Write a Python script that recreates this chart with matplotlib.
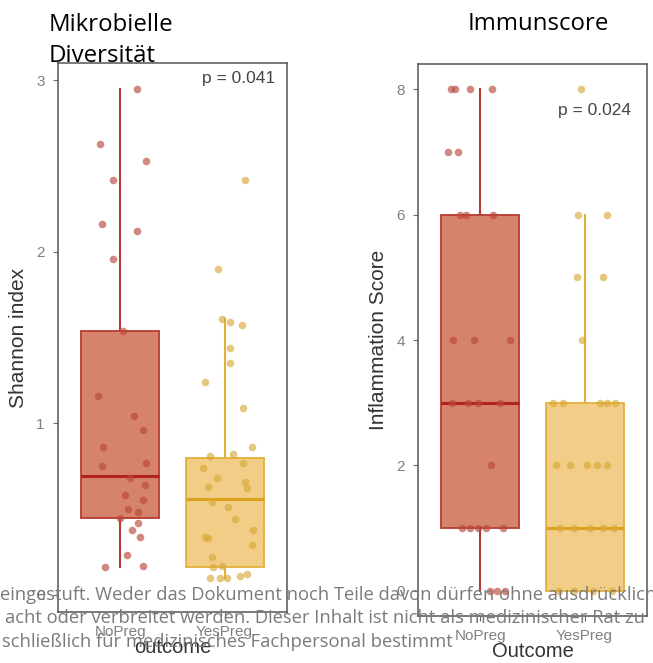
import matplotlib
matplotlib.use("Agg")
import matplotlib.pyplot as plt

groups = ["NoPreg", "YesPreg"]

# Shannon index per sample, with the horizontal jitter of each dot
shannon_no = [2.95, 2.63, 2.53, 2.42, 2.16, 2.12, 1.96, 1.54, 1.16, 1.04, 0.96, 0.86,
              0.75, 0.77, 0.68, 0.64, 0.58, 0.55, 0.50, 0.48, 0.45, 0.42, 0.38, 0.34,
              0.23, 0.16, 0.17]
shannon_no_jit = [0.16, -0.20, 0.25, -0.07, -0.18, 0.16, -0.07, 0.02, -0.22, 0.13, 0.22, -0.17,
                  -0.18, 0.25, 0.09, 0.24, 0.04, 0.22, 0.07, 0.17, 0.00, 0.17, 0.11, 0.19,
                  0.06, -0.15, 0.22]
shannon_yes = [2.42, 1.90, 1.61, 1.59, 1.57, 1.44, 1.35, 1.24, 1.09, 0.86, 0.81, 0.82,
               0.77, 0.74, 0.68, 0.63, 0.66, 0.62, 0.54, 0.51, 0.44, 0.38, 0.34, 0.33,
               0.29, 0.22, 0.17, 0.16, 0.10, 0.11, 0.12, 0.10, 0.10]
shannon_yes_jit = [0.20, -0.06, -0.02, 0.05, 0.17, 0.05, 0.05, -0.19, 0.18, 0.26, -0.14, 0.08,
                   0.18, -0.21, -0.07, -0.16, 0.20, 0.22, -0.12, 0.03, 0.10, 0.27, -0.19, -0.16,
                   0.26, -0.12, -0.02, -0.11, 0.02, 0.15, 0.22, -0.14, -0.04]

# inflammation score per sample
infl_no = [8, 8, 8, 8, 7, 7, 6, 6, 6, 4, 4, 4, 3, 3, 3, 3, 2, 1, 1, 1, 1, 1, 0, 0, 0]
infl_no_jit = [-0.28, -0.24, -0.10, 0.11, -0.31, -0.22, -0.20, -0.14, 0.12, -0.26, -0.06, 0.28,
               -0.27, -0.12, -0.02, 0.19, 0.10, -0.18, -0.10, -0.02, 0.05, 0.22, 0.09, 0.16, 0.24]
infl_yes = [8, 6, 6, 5, 5, 4, 3, 3, 3, 3, 3, 2, 2, 2, 2, 2, 1, 1, 1, 1, 1, 0, 0, 0, 0]
infl_yes_jit = [-0.03, -0.06, 0.22, -0.07, 0.18, -0.02, -0.30, -0.21, 0.15, 0.22, 0.29,
                -0.27, -0.14, 0.02, 0.12, 0.22, -0.24, -0.10, 0.05, 0.18, 0.28, -0.25, -0.10, 0.08, 0.26]

# box statistics: (whislo, q1, med, q3, whishi)
shannon_boxes = [(0.16, 0.45, 0.69, 1.54, 2.95), (0.10, 0.16, 0.56, 0.80, 1.61)]
infl_boxes = [(0, 1, 3, 6, 8), (0, 0, 1, 3, 6)]

pvals = ["p = 0.041", "p = 0.024"]

fills = ["#d6836b", "#f1cd87"]
edges = ["#b83a30", "#e3b03a"]
medians = ["#b0231f", "#dba21e"]
dots = ["#b8493c", "#d8aa3a"]

plt.rcParams["font.family"] = ["Liberation Sans", "DejaVu Sans"]

fig = plt.figure(figsize=(6.53, 6.63), dpi=100)
W, H = 653, 663
ax1 = fig.add_axes([58 / W, 1 - 612 / H, 229 / W, 549 / H])
ax2 = fig.add_axes([418 / W, 1 - 616 / H, 229 / W, 552 / H])


def draw_panel(ax, boxes, vals, jits, ylim, yticks, ylabel, xlabel, ptxt, ppos):
    stats = []
    for b in boxes:
        stats.append(dict(whislo=b[0], q1=b[1], med=b[2], q3=b[3], whishi=b[4], fliers=[]))
    bp = ax.bxp(stats, positions=[1, 2], widths=0.75, showcaps=False, showfliers=False,
                patch_artist=True)
    for i in range(2):
        bp["boxes"][i].set_facecolor(fills[i])
        bp["boxes"][i].set_edgecolor(edges[i])
        bp["boxes"][i].set_linewidth(1.3)
        bp["medians"][i].set_color(medians[i])
        bp["medians"][i].set_linewidth(2.2)
        for w in bp["whiskers"][2 * i:2 * i + 2]:
            w.set_color(edges[i])
            w.set_linewidth(1.5)
    for i in range(2):
        xs = [i + 1 + j for j in jits[i]]
        ax.scatter(xs, vals[i], s=30, color=dots[i], alpha=0.65, linewidths=0, zorder=3)
    ax.set_xlim(0.4, 2.6)
    ax.set_ylim(*ylim)
    ax.set_yticks(yticks)
    ax.set_xticks([1, 2])
    ax.set_xticklabels(groups)
    ax.tick_params(colors="#666666", labelcolor="#808080", labelsize=11, length=3.5, width=0.8, pad=6)
    for s in ax.spines.values():
        s.set_color("#555555")
        s.set_linewidth(1.1)
    ax.set_ylabel(ylabel, fontsize=15, color="#333333", labelpad=6)
    ax.set_xlabel(xlabel, fontsize=14.5, color="#333333", labelpad=-1)
    ax.text(ppos[0], ppos[1], ptxt, ha="center", va="center", fontsize=12.5, color="#444444")


draw_panel(ax1, shannon_boxes, [shannon_no, shannon_yes], [shannon_no_jit, shannon_yes_jit],
           (-0.1, 3.1), [0, 1, 2, 3], "Shannon index", "outcome", pvals[0], (2.13, 3.01))
draw_panel(ax2, infl_boxes, [infl_no, infl_yes], [infl_no_jit, infl_yes_jit],
           (-0.4, 8.4), [0, 2, 4, 6, 8], "Inflammation Score", "Outcome", pvals[1], (2.10, 7.66))

# panel headings
fig.text(49 / W, 1 - 31 / H, "Mikrobielle", family="Open Sans", fontsize=17.3, va="baseline")
fig.text(49 / W, 1 - 62 / H, "Diversität", family="Open Sans", fontsize=17.3, va="baseline")
fig.text(468 / W, 1 - 30 / H, "Immunscore", family="Open Sans", fontsize=17.3, va="baseline")

# disclaimer running across the bottom
notice = [
    (0, 600, "eingestuft. Weder das Dokument noch Teile davon dürfen ohne ausdrücklich"),
    (5, 623, "acht oder verbreitet werden. Dieser Inhalt ist nicht als medizinischer Rat zu"),
    (2, 647, "schließlich für medizinisches Fachpersonal bestimmt"),
]
for x, y, t in notice:
    fig.text(x / W, 1 - y / H, t, family="Open Sans", fontsize=13.2, color="#7a7a7a",
             va="baseline", zorder=10)

fig.savefig("out.png", dpi=100)
